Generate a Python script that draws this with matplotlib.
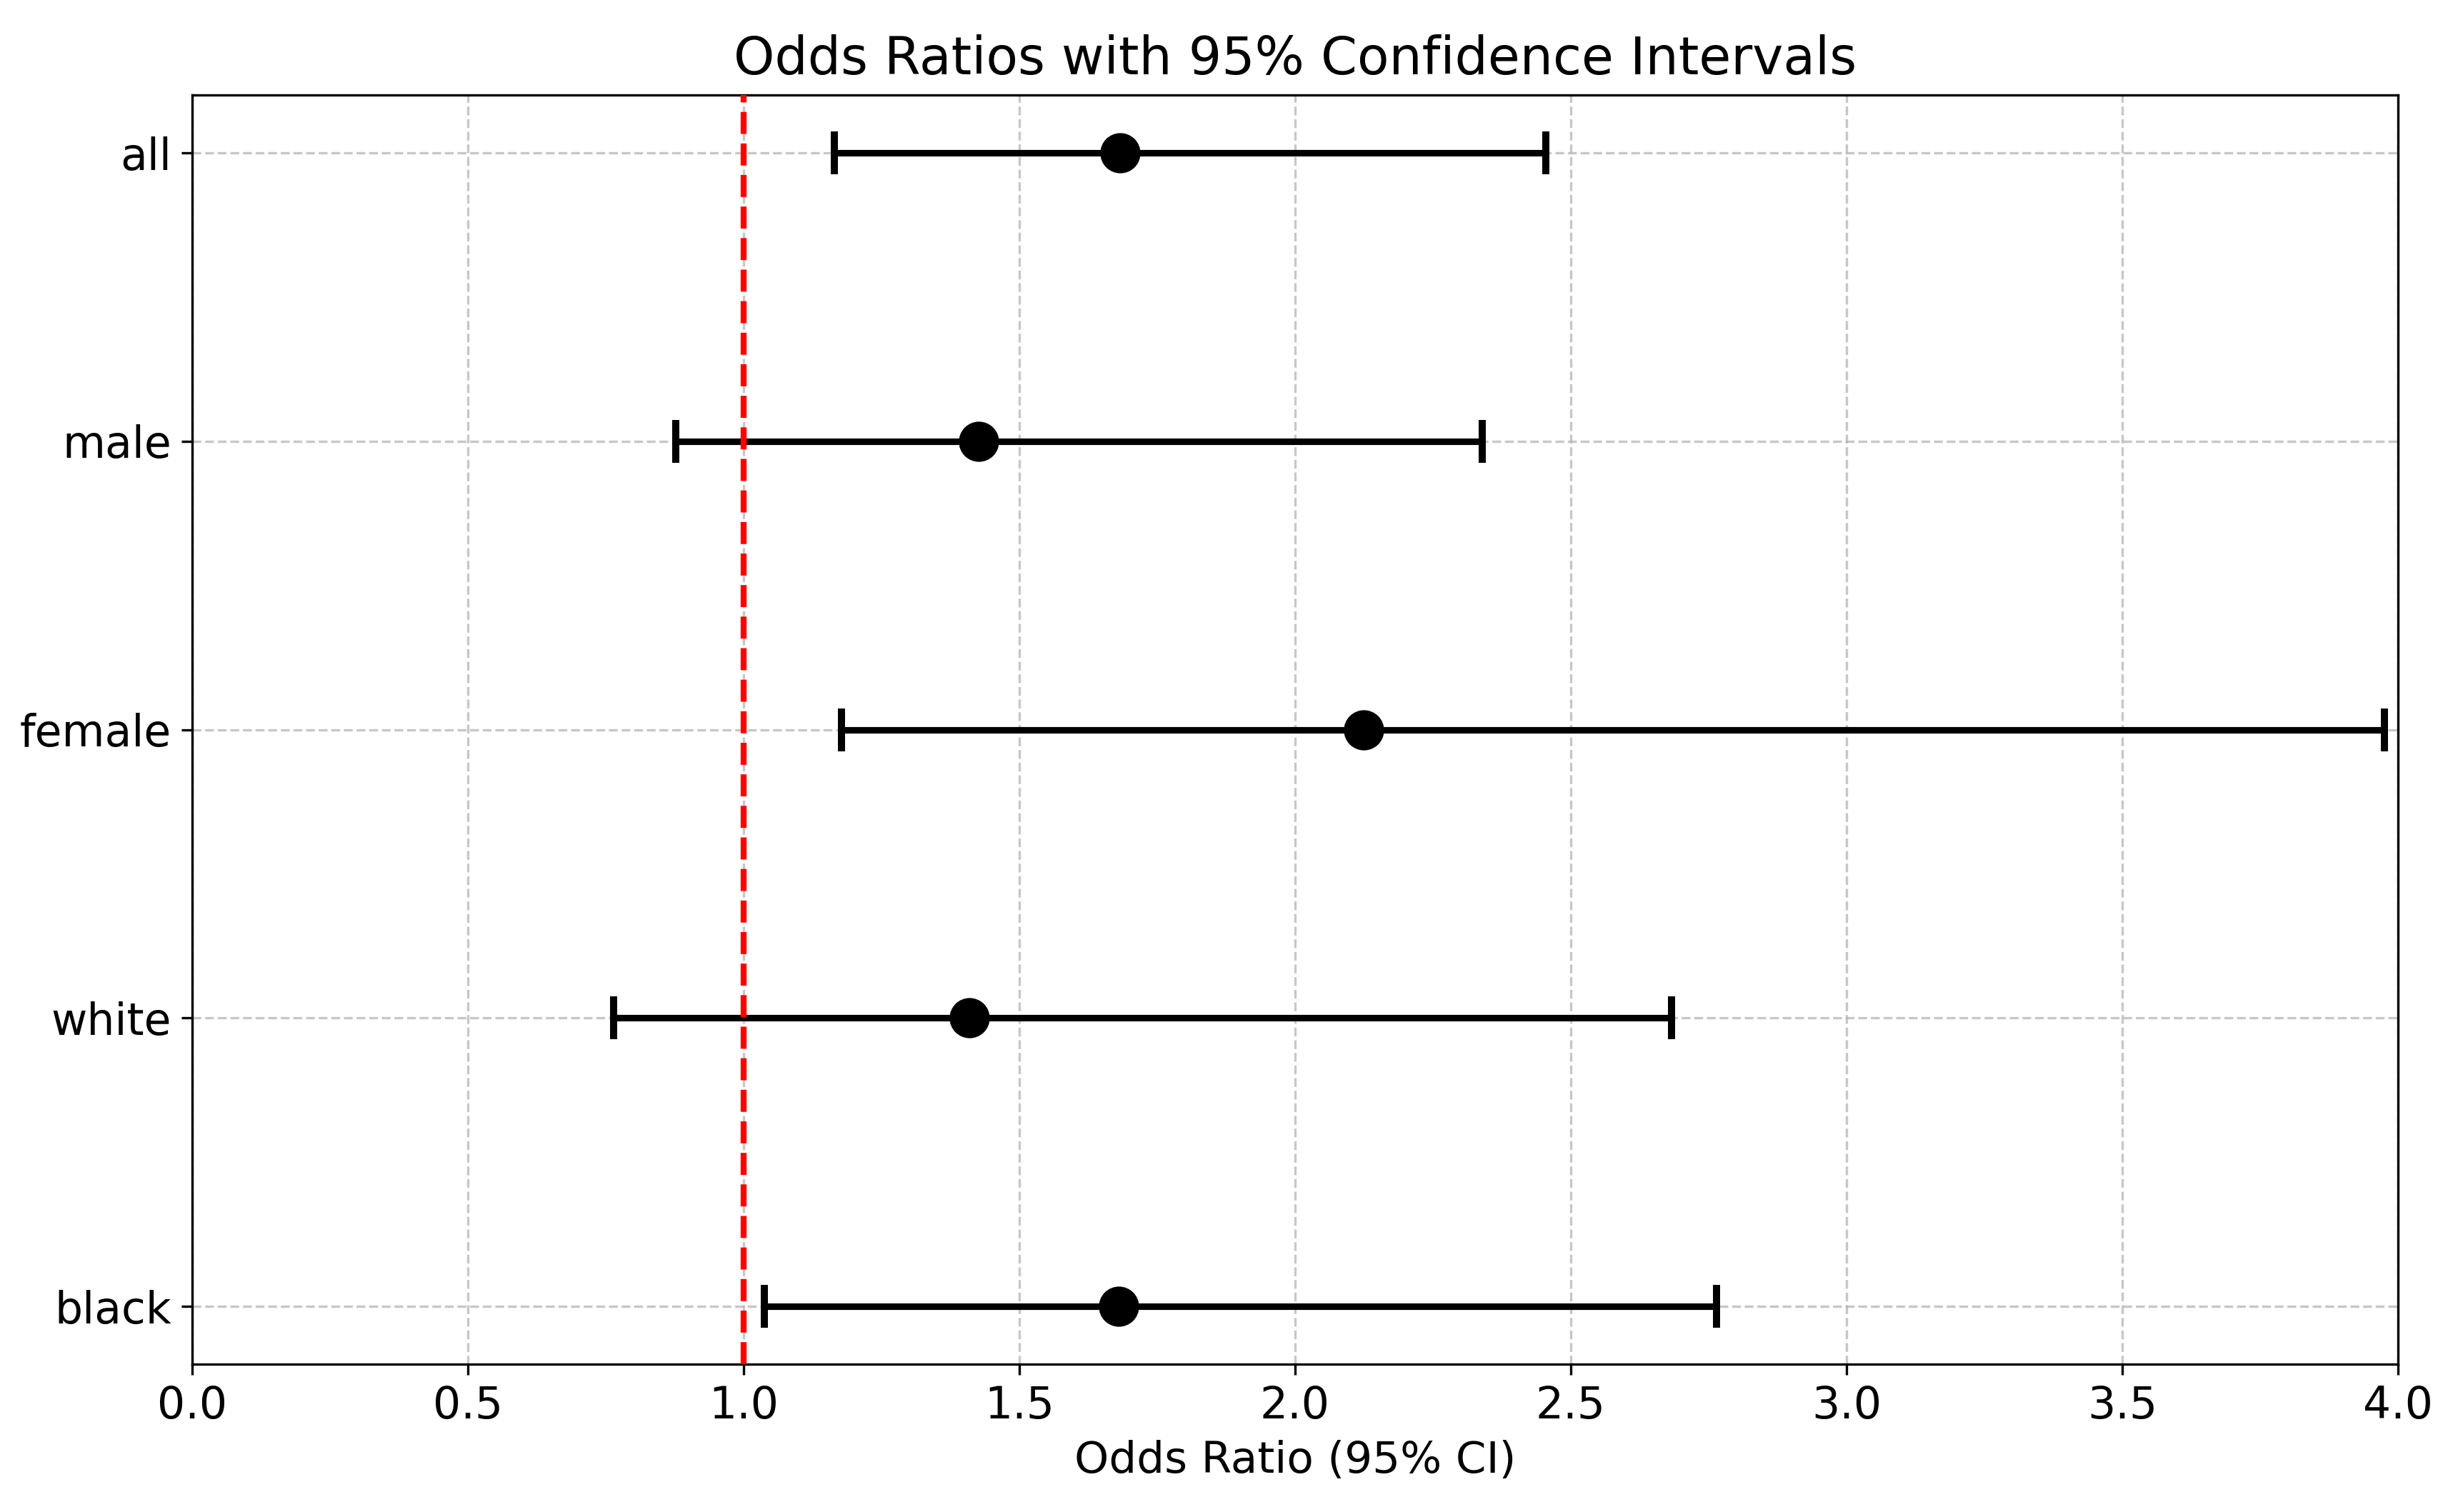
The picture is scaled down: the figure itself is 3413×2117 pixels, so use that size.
import matplotlib
matplotlib.use("Agg")
import matplotlib.pyplot as plt
import numpy as np

# Data
groups = ["all", "male", "female", "white", "black"]
odds_ratio = [1.683, 1.426, 2.124, 1.409, 1.680]
ci_lower = [1.165, 0.877, 1.177, 0.764, 1.038]
ci_upper = [2.455, 2.339, 3.975, 2.682, 2.764]

y = np.arange(len(groups))
err_low = np.array(odds_ratio) - np.array(ci_lower)
err_high = np.array(ci_upper) - np.array(odds_ratio)

fig, ax = plt.subplots(figsize=(3413 / 300, 2117 / 300), dpi=300)
fig.subplots_adjust(left=0.0788, right=0.9836, top=0.937, bottom=0.0978)

ax.errorbar(odds_ratio, y, xerr=[err_low, err_high], fmt='o', color='black',
            markersize=12.5, elinewidth=2.2, capsize=7.3, capthick=2.4, zorder=3)
ax.axvline(1, color='red', linestyle='--', linewidth=2, zorder=4)

ax.set_yticks(y)
ax.set_yticklabels(groups, fontsize=14.8)
ax.invert_yaxis()
ax.set_xlim(0, 4)
ax.tick_params(axis='x', labelsize=14.8)
ax.set_xlabel('Odds Ratio (95% CI)', fontsize=14.7)
ax.set_title('Odds Ratios with 95% Confidence Intervals', fontsize=17.5, pad=7)
ax.grid(True, linestyle='--', alpha=0.7)

plt.savefig('out.png', dpi=300)
